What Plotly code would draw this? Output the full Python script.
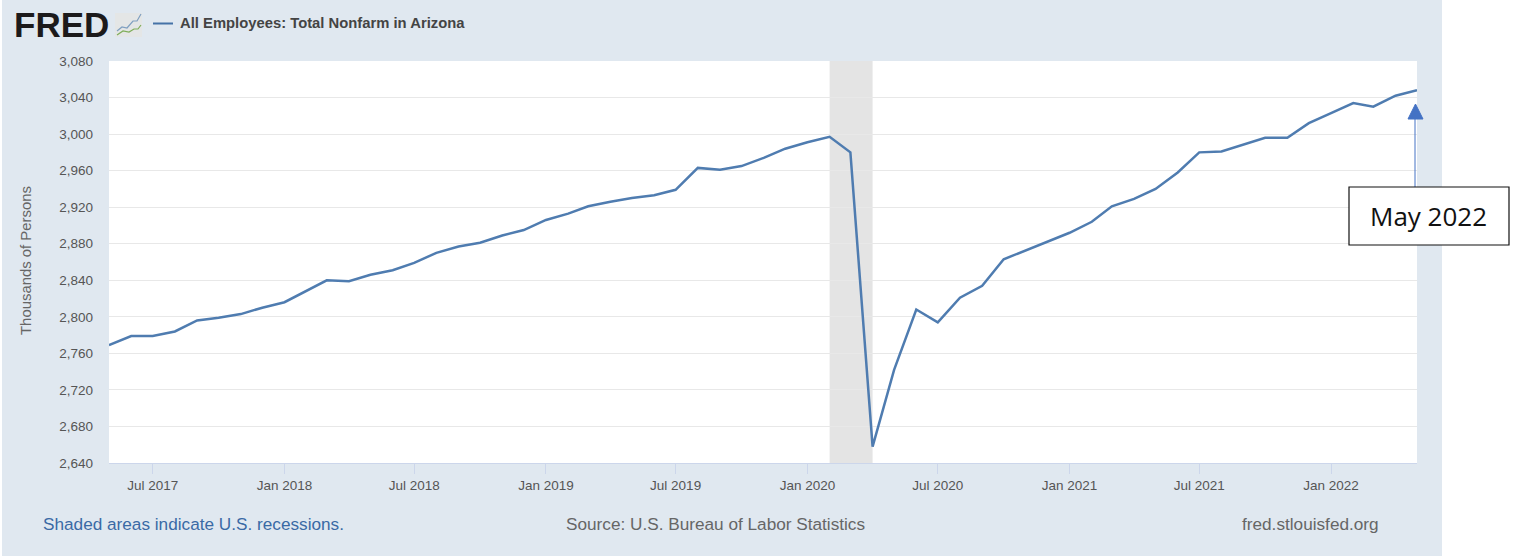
import plotly.graph_objects as go

W, H = 1513, 556
L, R, T, B = 109, 1417, 61, 463

SERIES_NAME = "All Employees: Total Nonfarm in Arizona"
dates = [f"{y}-{m:02d}-01" for y in range(2017, 2023) for m in range(1, 13)
         if (y, m) >= (2017, 5) and (y, m) <= (2022, 5)]
values = [
    2769, 2779, 2779, 2784, 2796, 2799, 2803, 2810,
    2816, 2829, 2840, 2839, 2846, 2851, 2859, 2870, 2877, 2881, 2889, 2895,
    2906, 2913, 2921, 2926, 2930, 2933, 2939, 2963, 2961, 2965, 2974, 2984,
    2991, 2997, 2980, 2658, 2742, 2808, 2794, 2821, 2834, 2863, 2873, 2882,
    2892, 2904, 2921, 2929, 2940, 2958, 2980, 2981, 2989, 2996, 2996, 3012,
    3023, 3034, 3030, 3042, 3048,
]
y_ticks = list(range(2640, 3081, 40))
x_tick_vals = ["2017-07-01", "2018-01-01", "2018-07-01", "2019-01-01", "2019-07-01",
               "2020-01-01", "2020-07-01", "2021-01-01", "2021-07-01", "2022-01-01"]
x_tick_text = ["Jul 2017", "Jan 2018", "Jul 2018", "Jan 2019", "Jul 2019",
               "Jan 2020", "Jul 2020", "Jan 2021", "Jul 2021", "Jan 2022"]
recession = ("2020-02-01", "2020-04-01")

PANEL = "#e0e8f0"
FONT = "Liberation Sans"


def px(x):
    return (x - L) / (R - L)


def py(y):
    return (B - y) / (B - T)


def rect(x0, y0, x1, y1, fill, line=None, width=0, layer="above"):
    return dict(type="rect", xref="paper", yref="paper", x0=px(x0), x1=px(x1),
                y0=py(y0), y1=py(y1), fillcolor=fill, layer=layer,
                line=dict(color=line or fill, width=width))


def seg(x0, y0, x1, y1, color, width=1, layer="above"):
    return dict(type="line", xref="paper", yref="paper", x0=px(x0), x1=px(x1),
                y0=py(y0), y1=py(y1), layer=layer, line=dict(color=color, width=width))


def poly(points, color, width=1, fill=None):
    p = "M" + " L".join(f"{px(a):.5f},{py(b):.5f}" for a, b in points)
    if fill:
        p += " Z"
    return dict(type="path", xref="paper", yref="paper", path=p, layer="above",
                fillcolor=fill, line=dict(color=color, width=width))


def label(x, y, text, size, color, anchor="left", bold=False, family=FONT):
    return dict(xref="paper", yref="paper", x=px(x), y=py(y), text=f"<b>{text}</b>" if bold else text,
                showarrow=False, xanchor=anchor, yanchor="middle",
                font=dict(family=family, size=size, color=color))


shapes = [
    # white outside the grey-blue panel
    rect(0, 0, 2, H, "#ffffff"),
    rect(1442, 0, W, H, "#ffffff"),
    # recession band
    dict(type="rect", xref="x", yref="paper", x0=recession[0], x1=recession[1], y0=0, y1=1,
         fillcolor="#e4e4e4", line=dict(width=0), layer="between"),
    # logo sparkline tile
    rect(115, 13, 142, 37, "#e4e6e6"),
    poly([(117, 31), (122, 27), (127, 28), (133, 21), (137, 21), (141, 14)], "#7f9fc0", 1.2),
    poly([(117, 35), (123, 31), (129, 32), (134, 29), (138, 29), (141, 25)], "#7fae5a", 1.2),
    # legend key
    seg(153, 23.5, 173, 23.5, "#4572a7", 2),
    # May 2022 callout and arrow
    seg(1415, 187, 1415, 118, "#4472c4", 1),
    poly([(1415.5, 104), (1423, 119), (1408, 119)], "#4472c4", 1, fill="#4472c4"),
    rect(1349, 187, 1509, 245, "#ffffff", "#111111", 1.2),
]

annotations = [
    label(12, 25, "FRED", 35, "#1c1a1b", bold=True),
    label(178, 23.5, SERIES_NAME, 14.8, "#444444", bold=True),
    label(41, 524, "Shaded areas indicate U.S. recessions.", 17.2, "#3a6aa5"),
    label(715.5, 524, "Source: U.S. Bureau of Labor Statistics", 17.2, "#666666", anchor="center"),
    label(1381, 524, "fred.stlouisfed.org", 17.2, "#666666", anchor="right"),
    label(1428.5, 216, "May 2022", 26, "#111111", anchor="center", family="Open Sans"),
    dict(xref="paper", yref="paper", x=px(26), y=py(261), text="Thousands of Persons",
         textangle=-90, showarrow=False, xanchor="center", yanchor="middle",
         font=dict(family=FONT, size=14.9, color="#666666")),
]

fig = go.Figure(go.Scatter(x=dates, y=values, mode="lines", name=SERIES_NAME,
                           line=dict(color="#4f7cb0", width=2.5), hoverinfo="skip"))
fig.update_layout(
    width=W, height=H, margin=dict(l=L, r=W - R, t=T, b=H - B, pad=0),
    paper_bgcolor=PANEL, plot_bgcolor="#ffffff", showlegend=False,
    shapes=shapes, annotations=annotations,
    font=dict(family=FONT),
    xaxis=dict(type="date", range=["2017-05-01", "2022-05-01"], tickmode="array",
               tickvals=x_tick_vals, ticktext=x_tick_text, ticks="outside", ticklen=10,
               tickcolor="#ccd6eb", tickwidth=1, showgrid=False, zeroline=False,
               showline=True, linecolor="#ccd6eb", linewidth=1,
               tickfont=dict(family=FONT, size=13.5, color="#555555")),
    yaxis=dict(range=[2640, 3080], tickmode="array", tickvals=y_ticks,
               ticktext=[f"{v:,}" for v in y_ticks], ticks="", showgrid=True,
               gridcolor="#e8e8e8", gridwidth=1.3, zeroline=False, showline=False,
               ticklabelstandoff=15,
               tickfont=dict(family=FONT, size=13.5, color="#555555")),
)
fig.write_html("out.html", config=dict(displayModeBar=False),
               post_script="document.body.style.margin='0';document.body.style.overflow='hidden';")
